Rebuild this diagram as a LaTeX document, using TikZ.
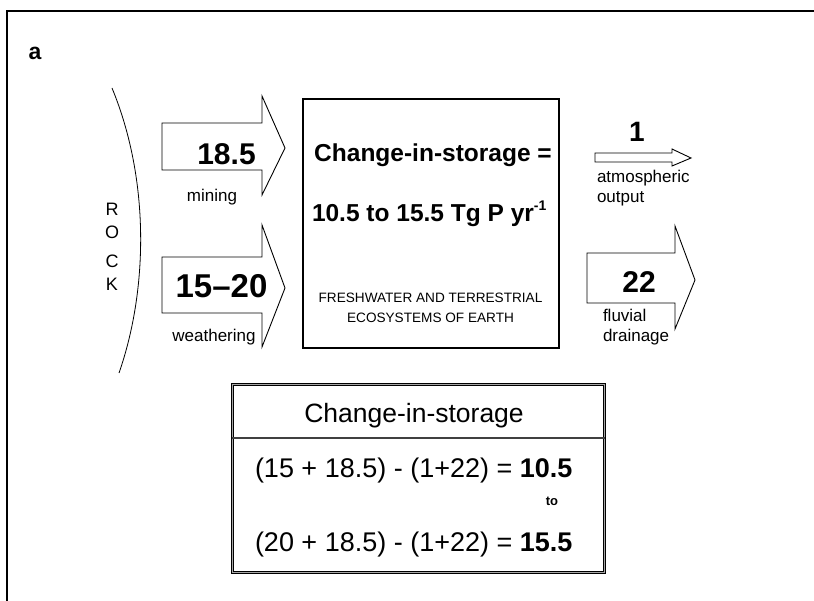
\documentclass[tikz,border=0pt]{standalone}
\usepackage{fontspec}
\setmainfont{Liberation Sans}
\newcommand{\fs}[1]{\fontsize{#1}{#1}\selectfont}
\begin{document}
\begin{tikzpicture}[x=1pt,y=-1pt,
  txt/.style={inner sep=0pt,outer sep=0pt,anchor=base},
  blockarrow/.style={draw=black,line width=0.9pt,fill=white,line join=miter},
  bignum/.style={txt,font=\bfseries\fs{30}},
  lbl/.style={txt,font=\fs{17}}]
\useasboundingbox (0,0) rectangle (814,601);
% outer frame (top and left)
\draw[line width=1.8pt] (7,601) -- (7,11) -- (814,11);
% panel letter
\node[txt,font=\bfseries\fs{23}] (lettera) at (35,60) {a};
% rock curve
\draw[line width=0.8pt] (112,88) .. controls (150,180) and (148,290) .. (119,373);
\foreach \l/\yy [count=\i] in {R/216,O/239,C/268,K/291}
  \node[txt,font=\fs{18}] (rock\i) at (112,\yy) {\l};
% mining arrow
\draw[blockarrow] (162,123) -- (262,123) -- (262,96) -- (285,148) -- (262,195) -- (262,170) -- (162,170) -- cycle;
\node[bignum] (n185) at (226.5,165) {18.5};
\node[lbl] (mining) at (212,202) {mining};
% weathering arrow
\draw[blockarrow] (162,257) -- (262,257) -- (262,225) -- (285,288) -- (262,347) -- (262,313) -- (162,313) -- cycle;
\node[txt,font=\bfseries\fs{33}] (n1520) at (221.5,298) {15--20};
\node[lbl] (weathering) at (214,342) {weathering};
% main box
\node[draw=black,line width=2.2pt,minimum width=256pt,minimum height=249pt,inner sep=0pt,anchor=north west] (box) at (302,98) {};
\node[txt,font=\bfseries\fs{24.5}] (cis) at (433,162) {Change-in-storage =};
\node[txt,anchor=base west,font=\bfseries\fs{24.5}] (range) at (312,222) {10.5 to 15.5 Tg P yr\raisebox{0.45em}{\fs{14}-1}};
\node[txt,font=\fs{13.6}] (fresh1) at (430.5,303) {FRESHWATER AND TERRESTRIAL};
\node[txt,font=\fs{13.6}] (fresh2) at (430.5,323) {ECOSYSTEMS OF EARTH};
% atmospheric output arrow
\draw[blockarrow] (595,153) -- (672,153) -- (672,149) -- (691,158) -- (672,166) -- (672,162) -- (595,162) -- cycle;
\node[txt,font=\bfseries\fs{28}] (n1) at (637,142) {1};
\node[lbl,anchor=base west] (atm) at (597,183) {atmospheric};
\node[lbl,anchor=base west] (out) at (597,203) {output};
% fluvial drainage arrow
\draw[blockarrow] (587,253) -- (675,253) -- (675,226) -- (695,280) -- (675,329) -- (675,303) -- (587,303) -- cycle;
\node[bignum] (n22) at (639,293) {22};
\node[lbl,anchor=base west] (fluv) at (603,322) {fluvial};
\node[lbl,anchor=base west] (drain) at (603,342) {drainage};
% bottom box
\node[draw=black,line width=0.9pt,double=gray!70,double distance=1.2pt,minimum width=372pt,minimum height=188pt,inner sep=0pt,anchor=north west] (calc) at (232,384) {};
\draw[line width=1.2pt,black!75] (calc.west |- 0,438) -- (calc.east |- 0,438);
\node[txt,font=\fs{26.5}] (cish) at (414,423) {Change-in-storage};
\node[txt,anchor=base west,font=\fs{27}] (eq1) at (255,477) {(15 + 18.5) - (1+22) = \textbf{10.5}};
\node[txt,font=\bfseries\fs{13}] (to) at (552,505) {to};
\node[txt,anchor=base west,font=\fs{27}] (eq2) at (255,551) {(20 + 18.5) - (1+22) = \textbf{15.5}};
\end{tikzpicture}
\end{document}
